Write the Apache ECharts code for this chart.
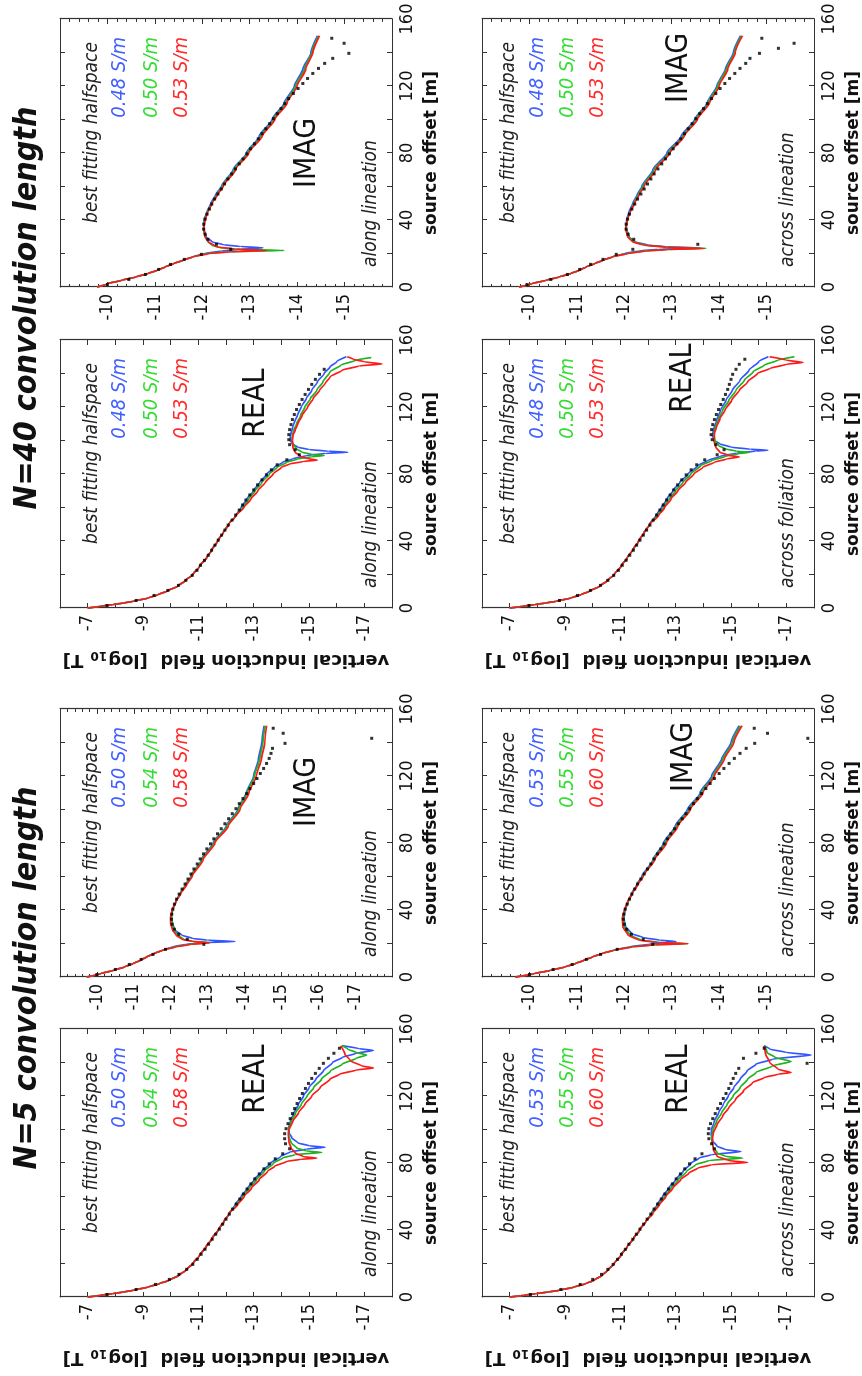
<!DOCTYPE html>
<html><head><meta charset="utf-8">
<script src="https://cdn.jsdelivr.net/npm/echarts/dist/echarts.min.js"></script>
<style>
html,body{margin:0;padding:0;background:#fff;overflow:hidden;width:862px;height:1376px;}
#wrap{position:absolute;left:0;top:1376px;width:1376px;height:862px;transform-origin:0 0;transform:rotate(-90deg);}
#chart{width:1376px;height:862px;background:#fff;}
</style></head>
<body><div id="wrap"><div id="chart"></div></div>
<script>
// ---------- tick labels / text ----------
const offsetTicks = [0, 40, 80, 120, 160];
const realTicks = [-7, -9, -11, -13, -15, -17];
const imagTicksShort = [-10, -11, -12, -13, -14, -15];
const imagTicksLong = [-10, -11, -12, -13, -14, -15, -16, -17];
const sigmaN5Along = ['0.50 S/m', '0.54 S/m', '0.58 S/m'];
const sigmaN5Across = ['0.53 S/m', '0.55 S/m', '0.60 S/m'];
const sigmaN40 = ['0.48 S/m', '0.50 S/m', '0.53 S/m'];

// observation offsets (m)
const obsOffsets = [1.5,4.5,7.5,10.5,13.5,16.5,19.5,22.5,25.5,28.5,31.5,34.5,37.5,40.5,43.5,46.5,49.5,52.5,55.5,58.5,61.5,64.5,67.5,70.5,73.5,76.5,79.5,82.5,85.5,88.5,91.5,94.5,97.5,100.5,103.5,106.5,109.5,112.5,115.5,118.5,121.5,124.5,127.5,130.5,133.5,136.5,139.5,142.5,145.5,148.5];

// ---------- N=5, along lineation, REAL ----------
const n5AlongRealTrunk = [[0,-7.0],[1,-7.45],[2,-7.9],[3,-8.3],[4,-8.65],[6,-9.2],[8,-9.6],[10,-9.95],[13,-10.3],[16,-10.55],[20,-10.8],[25,-11.05],[30,-11.28],[35,-11.5],[40,-11.72],[45,-11.92],[50,-12.12]];
const n5AlongRealBlueTail = [[55,-12.33],[60,-12.55],[65,-12.78],[70,-13.02],[75,-13.3],[80,-13.62],[84,-13.98],[86.5,-14.3],[88.3,-14.9],[89.4,-15.58],[90.3,-15.0],[92,-14.6],[95,-14.38],[98,-14.28],[101,-14.26],[105,-14.33],[110,-14.46],[115,-14.62],[120,-14.8],[125,-15.0],[130,-15.25],[135,-15.52],[140,-15.85],[143,-16.2],[145.5,-16.7],[147.2,-17.33],[148.3,-16.8],[150,-16.2]];
const n5AlongRealGreenTail = [[55,-12.38],[60,-12.6],[65,-12.84],[70,-13.1],[75,-13.38],[80,-13.72],[83,-14.05],[85,-14.5],[86.3,-15.46],[87.2,-14.9],[89,-14.55],[92,-14.36],[96,-14.27],[100,-14.26],[105,-14.36],[110,-14.52],[115,-14.72],[120,-14.93],[125,-15.17],[130,-15.45],[135,-15.78],[139,-16.2],[142.5,-16.7],[144.5,-17.08],[146,-16.7],[148,-16.4],[150,-16.2]];
const n5AlongRealRedTail = [[55,-12.42],[60,-12.66],[65,-12.92],[70,-13.2],[75,-13.5],[78,-13.75],[81,-14.2],[82.2,-14.7],[82.9,-15.28],[83.8,-14.8],[86,-14.5],[89,-14.35],[93,-14.27],[97,-14.25],[100,-14.28],[105,-14.42],[110,-14.62],[115,-14.85],[120,-15.1],[125,-15.4],[130,-15.75],[133,-16.1],[135.5,-16.7],[136.7,-17.33],[138,-16.9],[141,-16.5],[145,-16.3],[150,-16.15]];
const n5AlongRealObs = [-7.7,-8.75,-9.45,-9.95,-10.3,-10.58,-10.8,-10.96,-11.1,-11.24,-11.37,-11.5,-11.63,-11.76,-11.88,-12.0,-12.12,-12.24,-12.37,-12.5,-12.63,-12.76,-12.9,-13.04,-13.2,-13.37,-13.56,-13.78,-14.05,-14.3,-14.15,-14.12,-14.12,-14.17,-14.24,-14.32,-14.4,-14.48,-14.57,-14.66,-14.76,-14.87,-14.98,-15.1,-15.23,-15.37,-15.52,-15.7,-15.9,-16.1];

// ---------- N=5, along lineation, IMAG ----------
const n5AlongImagTrunk = [[0,-9.72],[2,-10.1],[4,-10.45],[6,-10.75],[8,-10.98],[10,-11.18],[12,-11.35],[14,-11.55],[16,-11.78]];
const n5AlongImagBlueTail = [[18,-12.05],[19.5,-12.4],[20.5,-12.9],[21.2,-13.74],[22,-13.0],[23,-12.6],[25,-12.3],[28,-12.12],[32,-12.05],[36,-12.02],[40,-12.05],[45,-12.14],[50,-12.26],[55,-12.4],[60,-12.55],[70,-12.83],[80,-13.15],[90,-13.5],[100,-13.82],[110,-14.05],[120,-14.25],[130,-14.38],[140,-14.47],[150,-14.53]];
const n5AlongImagGreenTail = [[18,-12.1],[19.5,-12.5],[20.5,-13.07],[21.3,-12.6],[22.5,-12.35],[25,-12.2],[28,-12.1],[32,-12.04],[36,-12.02],[40,-12.05],[45,-12.14],[50,-12.27],[55,-12.41],[60,-12.56],[70,-12.85],[80,-13.17],[90,-13.52],[100,-13.84],[110,-14.07],[120,-14.27],[130,-14.41],[140,-14.5],[150,-14.56]];
const n5AlongImagRedTail = [[18,-12.15],[19.5,-12.55],[20.4,-13.05],[21.2,-12.6],[22.5,-12.3],[25,-12.15],[28,-12.05],[32,-12.0],[36,-12.0],[40,-12.04],[45,-12.14],[50,-12.28],[55,-12.43],[60,-12.58],[70,-12.88],[80,-13.2],[90,-13.56],[100,-13.88],[110,-14.12],[120,-14.32],[130,-14.46],[140,-14.55],[150,-14.6]];
const n5AlongImagObs = [-10.0,-10.5,-10.88,-11.2,-11.52,-11.86,-12.9,-12.45,-12.22,-12.1,-12.04,-12.02,-12.03,-12.06,-12.1,-12.16,-12.23,-12.31,-12.39,-12.47,-12.55,-12.63,-12.72,-12.8,-12.89,-12.98,-13.08,-13.17,-13.27,-13.37,-13.47,-13.57,-13.67,-13.77,-13.86,-13.96,-14.06,-14.15,-14.25,-14.34,-14.43,-14.52,-14.6,-14.67,-14.72,-14.76,-15.1,-17.45,-15.05,-14.78];

// ---------- N=40, along lineation, REAL ----------
const n40AlongRealTrunk = [[0,-7.0],[1,-7.45],[2,-7.9],[3,-8.3],[4,-8.65],[6,-9.2],[8,-9.55],[10,-9.85],[13,-10.25],[16,-10.5],[20,-10.8],[25,-11.05],[30,-11.3],[35,-11.5],[40,-11.7],[45,-11.9],[50,-12.1],[55,-12.35]];
const n40AlongRealBlueTail = [[60,-12.55],[65,-12.75],[70,-13.0],[75,-13.22],[80,-13.48],[84,-13.75],[87,-14.05],[89,-14.4],[91,-14.9],[92.3,-15.6],[93,-16.4],[93.6,-15.7],[94.6,-15.0],[96,-14.6],[98,-14.4],[100,-14.33],[103,-14.33],[106,-14.38],[110,-14.45],[115,-14.58],[120,-14.72],[125,-14.9],[130,-15.1],[135,-15.3],[140,-15.55],[144,-15.76],[147,-16.0],[150,-16.35]];
const n40AlongRealGreenTail = [[60,-12.6],[65,-12.82],[70,-13.05],[75,-13.3],[80,-13.57],[84,-13.85],[87,-14.2],[89,-14.6],[90.3,-15.1],[91,-15.55],[91.7,-15.1],[93,-14.75],[95,-14.55],[98,-14.42],[100,-14.38],[103,-14.4],[106,-14.45],[110,-14.55],[115,-14.7],[120,-14.85],[125,-15.05],[130,-15.28],[135,-15.5],[141,-15.76],[145,-16.15],[148,-16.7],[149.5,-17.25]];
const n40AlongRealRedTail = [[60,-12.65],[65,-12.9],[70,-13.15],[75,-13.42],[80,-13.7],[84,-14.0],[86,-14.3],[87.5,-14.8],[88.3,-15.3],[89.2,-14.95],[90.5,-14.7],[93,-14.5],[96,-14.42],[100,-14.4],[103,-14.42],[106,-14.5],[110,-14.6],[115,-14.75],[120,-14.95],[125,-15.15],[130,-15.38],[134,-15.58],[138,-15.76],[142,-16.2],[144.5,-16.8],[145.7,-17.64],[147,-17.0],[148.5,-16.6],[150,-16.38]];
const n40AlongRealObs = [-7.7,-8.75,-9.4,-9.9,-10.28,-10.55,-10.78,-10.95,-11.08,-11.22,-11.36,-11.48,-11.6,-11.72,-11.84,-11.96,-12.08,-12.22,-12.35,-12.48,-12.6,-12.72,-12.86,-13.0,-13.14,-13.3,-13.46,-13.64,-13.85,-14.2,-14.65,-14.5,-14.3,-14.27,-14.27,-14.3,-14.35,-14.4,-14.47,-14.55,-14.65,-14.75,-14.86,-14.98,-15.1,-15.23,-15.38,-15.55,null,null];

// ---------- N=40, along lineation, IMAG ----------
const n40AlongImagTrunk = [[0,-9.78],[2,-10.0],[4,-10.3],[6,-10.6],[8,-10.85],[10,-11.05],[12,-11.22],[14,-11.4],[16,-11.6],[18,-11.8]];
const n40AlongImagBlueTail = [[20,-12.05],[21.5,-12.4],[22.5,-12.8],[23.4,-13.28],[24.2,-12.8],[25.2,-12.45],[27,-12.2],[30,-12.08],[35,-12.03],[40,-12.04],[45,-12.1],[50,-12.18],[55,-12.28],[60,-12.4],[70,-12.65],[80,-12.93],[90,-13.2],[100,-13.47],[110,-13.73],[120,-13.94],[130,-14.12],[140,-14.29],[150,-14.43]];
const n40AlongImagGreenTail = [[20,-12.1],[21,-12.5],[21.8,-13.72],[22.6,-12.7],[23.6,-12.35],[25,-12.2],[27,-12.12],[30,-12.06],[35,-12.03],[40,-12.05],[45,-12.11],[50,-12.2],[55,-12.3],[60,-12.42],[70,-12.67],[80,-12.95],[90,-13.23],[100,-13.5],[110,-13.76],[120,-13.97],[130,-14.15],[140,-14.31],[150,-14.45]];
const n40AlongImagRedTail = [[20,-12.15],[21,-12.6],[21.8,-13.35],[22.6,-12.7],[24,-12.3],[27,-12.13],[30,-12.06],[35,-12.03],[40,-12.06],[45,-12.12],[50,-12.21],[55,-12.32],[60,-12.44],[70,-12.7],[80,-12.98],[90,-13.26],[100,-13.53],[110,-13.79],[120,-14.0],[130,-14.18],[140,-14.33],[150,-14.47]];
const n40AlongImagObs = [-10.0,-10.45,-10.8,-11.08,-11.33,-11.62,-11.98,-12.6,-12.3,-12.12,-12.06,-12.03,-12.03,-12.06,-12.1,-12.15,-12.2,-12.26,-12.33,-12.4,-12.47,-12.54,-12.62,-12.7,-12.78,-12.86,-12.94,-13.02,-13.1,-13.18,-13.26,-13.34,-13.42,-13.5,-13.58,-13.66,-13.74,-13.82,-13.92,-14.02,-14.12,-14.22,-14.33,-14.45,-14.58,-14.75,-15.09,null,-14.99,-14.73];

// ---------- N=5, across lineation, REAL ----------
const n5AcrossRealTrunk = [[0,-7.0],[1,-7.5],[2,-7.95],[3,-8.4],[4,-8.8],[6,-9.35],[8,-9.75],[10,-10.05],[13,-10.35],[16,-10.55],[20,-10.78],[25,-11.02],[30,-11.25],[35,-11.48],[40,-11.7],[45,-11.92]];
const n5AcrossRealBlueTail = [[50,-12.12],[55,-12.32],[60,-12.53],[65,-12.75],[70,-13.0],[75,-13.27],[80,-13.57],[83,-13.85],[85,-14.3],[86.8,-15.36],[88,-14.8],[90,-14.5],[93,-14.35],[97,-14.28],[100,-14.3],[105,-14.4],[110,-14.55],[115,-14.72],[120,-14.9],[125,-15.1],[130,-15.33],[135,-15.58],[139,-15.9],[142,-16.5],[144.5,-17.9],[146,-17.0],[148,-16.4],[150,-16.2]];
const n5AcrossRealGreenTail = [[50,-12.15],[55,-12.37],[60,-12.6],[65,-12.83],[70,-13.1],[75,-13.4],[79,-13.72],[81.5,-14.2],[82.9,-15.42],[84,-14.8],[86,-14.5],[90,-14.35],[95,-14.3],[100,-14.35],[105,-14.48],[110,-14.66],[115,-14.86],[120,-15.08],[125,-15.33],[130,-15.6],[134,-15.9],[138,-16.5],[140.6,-17.17],[143,-16.6],[146,-16.3],[150,-16.2]];
const n5AcrossRealRedTail = [[50,-12.18],[55,-12.41],[60,-12.65],[65,-12.9],[70,-13.18],[74,-13.48],[77,-13.8],[79,-14.3],[80.3,-15.6],[81.5,-14.9],[84,-14.5],[88,-14.36],[93,-14.32],[98,-14.36],[103,-14.5],[108,-14.7],[113,-14.92],[118,-15.17],[123,-15.45],[128,-15.78],[131,-16.2],[133,-16.7],[134,-17.17],[136,-16.7],[140,-16.4],[145,-16.25],[150,-16.2]];
const n5AcrossRealObs = [-7.75,-8.85,-9.55,-10.0,-10.32,-10.55,-10.74,-10.9,-11.04,-11.18,-11.31,-11.45,-11.58,-11.71,-11.84,-11.97,-12.1,-12.22,-12.35,-12.48,-12.61,-12.74,-12.88,-13.02,-13.17,-13.33,-13.5,-13.7,-13.95,-14.4,-14.3,-14.2,-14.18,-14.2,-14.26,-14.34,-14.43,-14.52,-14.62,-14.72,-14.82,-14.92,-15.0,-15.08,-15.17,-15.28,-17.75,-15.45,-15.9,-16.2];

// ---------- N=5, across lineation, IMAG ----------
const n5AcrossImagTrunk = [[0,-9.7],[2,-10.1],[4,-10.45],[6,-10.75],[8,-10.97],[10,-11.15],[12,-11.33],[14,-11.53],[16,-11.78]];
const n5AcrossImagBlueTail = [[18,-12.1],[19.5,-12.5],[20.5,-12.85],[21.2,-13.09],[22,-12.75],[23.5,-12.4],[26,-12.15],[30,-12.03],[35,-11.99],[40,-12.02],[45,-12.08],[50,-12.16],[55,-12.26],[60,-12.37],[70,-12.6],[80,-12.83],[90,-13.07],[100,-13.33],[110,-13.6],[120,-13.84],[130,-14.05],[140,-14.25],[150,-14.42]];
const n5AcrossImagGreenTail = [[18,-12.15],[19.2,-12.6],[19.9,-13.34],[20.6,-12.75],[22,-12.35],[25,-12.12],[30,-12.0],[35,-11.98],[40,-12.01],[45,-12.08],[50,-12.17],[55,-12.27],[60,-12.39],[70,-12.62],[80,-12.86],[90,-13.1],[100,-13.36],[110,-13.63],[120,-13.87],[130,-14.08],[140,-14.28],[150,-14.45]];
const n5AcrossImagRedTail = [[18,-12.18],[19.2,-12.65],[19.9,-13.34],[20.6,-12.7],[22,-12.3],[25,-12.08],[30,-11.97],[35,-11.96],[40,-12.0],[45,-12.07],[50,-12.17],[55,-12.28],[60,-12.4],[70,-12.64],[80,-12.89],[90,-13.13],[100,-13.39],[110,-13.66],[120,-13.9],[130,-14.11],[140,-14.31],[150,-14.48]];
const n5AcrossImagObs = [-10.0,-10.5,-10.9,-11.2,-11.5,-11.85,-12.6,-12.4,-12.15,-12.05,-12.0,-11.98,-11.99,-12.02,-12.06,-12.11,-12.16,-12.22,-12.28,-12.35,-12.42,-12.49,-12.56,-12.63,-12.7,-12.77,-12.84,-12.91,-12.98,-13.06,-13.14,-13.22,-13.3,-13.38,-13.46,-13.54,-13.63,-13.72,-13.81,-13.9,-14.0,-14.1,-14.21,-14.32,-14.44,-14.57,-14.75,-15.87,-15.02,-14.74];

// ---------- N=40, across foliation, REAL ----------
const n40AcrossRealTrunk = [[0,-7.0],[1,-7.45],[2,-7.9],[3,-8.3],[4,-8.68],[6,-9.22],[8,-9.58],[10,-9.88],[13,-10.25],[16,-10.5],[20,-10.78],[25,-11.03],[30,-11.25],[35,-11.46],[40,-11.66],[45,-11.86],[50,-12.06]];
const n40AcrossRealBlueTail = [[55,-12.28],[60,-12.48],[65,-12.68],[70,-12.9],[75,-13.15],[80,-13.45],[85,-13.8],[88,-14.15],[90.5,-14.6],[92.5,-15.2],[93.7,-15.9],[94.2,-16.33],[94.8,-15.7],[96,-15.0],[98,-14.6],[100,-14.4],[103,-14.33],[107,-14.38],[112,-14.48],[118,-14.62],[124,-14.82],[130,-15.05],[136,-15.33],[142,-15.65],[147,-16.0],[150,-16.35]];
const n40AcrossRealGreenTail = [[55,-12.33],[60,-12.55],[65,-12.76],[70,-13.0],[75,-13.26],[80,-13.55],[85,-13.9],[88,-14.3],[90.5,-14.8],[92.2,-15.3],[92.9,-15.66],[93.6,-15.2],[95,-14.8],[97,-14.55],[100,-14.42],[104,-14.38],[108,-14.43],[113,-14.55],[118,-14.7],[124,-14.92],[130,-15.18],[136,-15.48],[141,-15.8],[145,-16.2],[148,-16.7],[150,-17.29]];
const n40AcrossRealRedTail = [[55,-12.38],[60,-12.6],[65,-12.83],[70,-13.08],[75,-13.36],[80,-13.66],[84,-13.98],[87,-14.4],[89,-14.85],[90.2,-15.3],[91,-14.95],[93,-14.6],[96,-14.45],[100,-14.38],[104,-14.4],[108,-14.47],[113,-14.6],[118,-14.78],[124,-15.02],[130,-15.3],[135,-15.6],[140,-15.95],[143,-16.4],[145.5,-17.0],[146.6,-17.6],[148,-17.0],[150,-16.4]];
const n40AcrossRealObs = [-7.7,-8.8,-9.45,-9.92,-10.28,-10.55,-10.76,-10.93,-11.07,-11.21,-11.34,-11.47,-11.59,-11.71,-11.83,-11.95,-12.07,-12.19,-12.31,-12.43,-12.55,-12.67,-12.8,-12.93,-13.07,-13.22,-13.38,-13.56,-13.76,-14.05,-14.5,-14.75,-14.45,-14.32,-14.28,-14.3,-14.34,-14.4,-14.47,-14.55,-14.63,-14.72,-14.8,-14.88,-14.94,-15.0,-15.06,-15.18,-15.3,-15.5];

// ---------- N=40, across lineation, IMAG ----------
const n40AcrossImagTrunk = [[0,-9.78],[2,-10.05],[4,-10.35],[6,-10.63],[8,-10.87],[10,-11.05],[12,-11.2],[14,-11.38],[16,-11.55],[18,-11.75]];
const n40AcrossImagBlueTail = [[20,-12.0],[21.5,-12.3],[22.5,-12.7],[23.3,-13.6],[24,-12.9],[25,-12.5],[27,-12.22],[30,-12.1],[35,-12.04],[40,-12.05],[45,-12.1],[50,-12.18],[55,-12.27],[60,-12.37],[70,-12.6],[80,-12.9],[90,-13.2],[100,-13.48],[110,-13.75],[120,-13.95],[130,-14.13],[140,-14.3],[150,-14.45]];
const n40AcrossImagGreenTail = [[20,-12.05],[21.5,-12.4],[22.4,-12.9],[23.1,-13.72],[23.8,-12.9],[25,-12.45],[27,-12.2],[30,-12.09],[35,-12.04],[40,-12.06],[45,-12.12],[50,-12.2],[55,-12.29],[60,-12.39],[70,-12.63],[80,-12.93],[90,-13.23],[100,-13.51],[110,-13.77],[120,-13.97],[130,-14.15],[140,-14.32],[150,-14.47]];
const n40AcrossImagRedTail = [[20,-12.08],[21.5,-12.45],[22.4,-12.95],[23.0,-13.68],[23.7,-12.9],[25,-12.4],[27,-12.17],[30,-12.07],[35,-12.03],[40,-12.06],[45,-12.13],[50,-12.22],[55,-12.31],[60,-12.42],[70,-12.66],[80,-12.96],[90,-13.26],[100,-13.54],[110,-13.8],[120,-14.0],[130,-14.18],[140,-14.34],[150,-14.49]];
const n40AcrossImagObs = [-9.95,-10.45,-10.8,-11.06,-11.29,-11.55,-11.83,-12.18,-13.55,-12.2,-12.08,-12.04,-12.04,-12.07,-12.11,-12.16,-12.22,-12.28,-12.35,-12.42,-12.49,-12.56,-12.63,-12.71,-12.79,-12.87,-12.95,-13.03,-13.11,-13.19,-13.27,-13.35,-13.43,-13.51,-13.59,-13.67,-13.75,-13.84,-13.93,-14.02,-14.12,-14.22,-14.33,-14.44,-14.56,-14.65,-14.85,-15.25,-15.58,-14.9];

// ---------- panel definitions ----------
const panels = [
  {kind:'REAL', yMin:-18, yMax:-6, ticks:realTicks, trunk:n5AlongRealTrunk, blue:n5AlongRealBlueTail, green:n5AlongRealGreenTail, red:n5AlongRealRedTail, obs:n5AlongRealObs, sigma:sigmaN5Along, orient:'along lineation'},
  {kind:'IMAG', yMin:-18, yMax:-9, ticks:imagTicksLong, trunk:n5AlongImagTrunk, blue:n5AlongImagBlueTail, green:n5AlongImagGreenTail, red:n5AlongImagRedTail, obs:n5AlongImagObs, sigma:sigmaN5Along, orient:'along lineation'},
  {kind:'REAL', yMin:-18, yMax:-6, ticks:realTicks, trunk:n40AlongRealTrunk, blue:n40AlongRealBlueTail, green:n40AlongRealGreenTail, red:n40AlongRealRedTail, obs:n40AlongRealObs, sigma:sigmaN40, orient:'along lineation'},
  {kind:'IMAG', yMin:-16, yMax:-9, ticks:imagTicksShort, trunk:n40AlongImagTrunk, blue:n40AlongImagBlueTail, green:n40AlongImagGreenTail, red:n40AlongImagRedTail, obs:n40AlongImagObs, sigma:sigmaN40, orient:'along lineation'},
  {kind:'REAL', yMin:-18, yMax:-6, ticks:realTicks, trunk:n5AcrossRealTrunk, blue:n5AcrossRealBlueTail, green:n5AcrossRealGreenTail, red:n5AcrossRealRedTail, obs:n5AcrossRealObs, sigma:sigmaN5Across, orient:'across lineation'},
  {kind:'IMAG', yMin:-16, yMax:-9, ticks:imagTicksShort, trunk:n5AcrossImagTrunk, blue:n5AcrossImagBlueTail, green:n5AcrossImagGreenTail, red:n5AcrossImagRedTail, obs:n5AcrossImagObs, sigma:sigmaN5Across, orient:'across lineation'},
  {kind:'REAL', yMin:-18, yMax:-6, ticks:realTicks, trunk:n40AcrossRealTrunk, blue:n40AcrossRealBlueTail, green:n40AcrossRealGreenTail, red:n40AcrossRealRedTail, obs:n40AcrossRealObs, sigma:sigmaN40, orient:'across foliation'},
  {kind:'IMAG', yMin:-16, yMax:-9, ticks:imagTicksShort, trunk:n40AcrossImagTrunk, blue:n40AcrossImagBlueTail, green:n40AcrossImagGreenTail, red:n40AcrossImagRedTail, obs:n40AcrossImagObs, sigma:sigmaN40, orient:'across lineation'}
];

// ---------- layout (canvas is drawn landscape, then rotated) ----------
const W = 268, H = 332;
const layout = [
  {left:79,  top:60,  kx:218, ky:196},
  {left:399, top:60,  kx:185, ky:247},
  {left:768, top:60,  kx:205, ky:196},
  {left:1089,top:60,  kx:134, ky:247},
  {left:79,  top:482, kx:218, ky:197},
  {left:399, top:482, kx:220, ky:202},
  {left:768, top:482, kx:230, ky:201},
  {left:1089,top:482, kx:219, ky:197}
];
const FC = "'Liberation Sans Narrow','DejaVu Sans Condensed',sans-serif";
const FB = "'DejaVu Sans',Verdana,sans-serif";
const LINE_COL = {blue:'#3355ff', green:'#1fb41f', red:'#ff1a1a'};
const TEXT_COL = ['#4060ff', '#33dd33', '#ff2a2a'];
const AX = '#333';

const option = {animation:false, backgroundColor:'#fff', grid:[], xAxis:[], yAxis:[], series:[], graphic:[]};

panels.forEach((p, i) => {
  const g = layout[i];
  const across = i >= 4;
  option.grid.push({left:g.left, top:g.top, width:W, height:H, show:false, containLabel:false});
  const axisLine = {show:true, onZero:false, lineStyle:{color:AX, width:1.2}};
  const tick = {show:true, inside:true, length:5, lineStyle:{color:AX, width:1}};
  const minor = p.kind === 'IMAG' ? {show:true, splitNumber:5, length:3, lineStyle:{color:AX, width:1}} : {show:false};
  const lbl = {fontSize:18, fontFamily:FC, color:'#111', margin:6};
  option.xAxis.push({gridIndex:i, type:'value', min:0, max:160, interval:20, position:'bottom', axisLine, axisTick:tick, splitLine:{show:false},
    axisLabel:Object.assign({}, lbl, {formatter:v => offsetTicks.includes(v) ? String(v) : ''})});
  option.xAxis.push({gridIndex:i, type:'value', min:0, max:160, interval:20, position:'top', axisLine, axisTick:tick, splitLine:{show:false}, axisLabel:{show:false}});
  option.yAxis.push({gridIndex:i, type:'value', min:p.yMin, max:p.yMax, interval:1, position:'left', axisLine, axisTick:tick, minorTick:minor, splitLine:{show:false}, minorSplitLine:{show:false},
    axisLabel:Object.assign({}, lbl, {margin:7, formatter:v => p.ticks.includes(v) ? String(v) : ''})});
  option.yAxis.push({gridIndex:i, type:'value', min:p.yMin, max:p.yMax, interval:1, position:'right', axisLine, axisTick:tick, minorTick:minor, splitLine:{show:false}, minorSplitLine:{show:false}, axisLabel:{show:false}});

  ['blue','green','red'].forEach(c => {
    option.series.push({type:'line', xAxisIndex:2*i, yAxisIndex:2*i, data:p.trunk.concat(p[c]), showSymbol:false, symbol:'none',
      smooth:0.2, smoothMonotone:'x', lineStyle:{color:LINE_COL[c], width:1.7}, silent:true, z:3});
  });
  option.series.push({type:'scatter', xAxisIndex:2*i, yAxisIndex:2*i, data:obsOffsets.map((x,k) => [x, p.obs[k]]).filter(d => d[1] !== null),
    symbol:'rect', symbolSize:3, itemStyle:{color:'#000'}, silent:true, z:4});

  // annotations
  const L = g.left, T = g.top;
  option.graphic.push({type:'text', x:L+245, y:T+(across?27:32), silent:true,
    style:{text:'best fitting halfspace', font:'italic 19px '+FC, fill:'#222', align:'right', verticalAlign:'middle'}});
  const sy = across ? [56,86,116] : [60,92,122];
  p.sigma.forEach((s, k) => option.graphic.push({type:'text', x:L+250, y:T+sy[k], silent:true,
    style:{text:s, font:'italic 20px '+FC, fill:TEXT_COL[k], align:'right', verticalAlign:'middle'}}));
  option.graphic.push({type:'text', x:L+g.kx, y:T+g.ky, silent:true,
    style:{text:p.kind, font:'30px '+FC, fill:'#111', align:'center', verticalAlign:'middle'}});
  option.graphic.push({type:'text', x:L+20, y:T+(across?306:311), silent:true,
    style:{text:p.orient, font:'italic 19px '+FC, fill:'#222', align:'left', verticalAlign:'middle'}});
  option.graphic.push({type:'text', x:L+W/2, y:T+H+40, silent:true,
    style:{text:'source offset [m]', font:'bold 17px '+FB, fill:'#111', align:'center', verticalAlign:'middle'}});
  if (p.kind === 'REAL') {
    option.graphic.push({type:'text', x:(i % 4 === 0 ? 18 : 716), y:T+H/2, rotation:Math.PI/2, silent:true,
      style:{text:'{a|vertical induction field  [log}{s|10}{a| T]}', align:'center', verticalAlign:'middle',
        rich:{a:{font:'bold 18px '+FB, fill:'#111'}, s:{font:'bold 12px '+FB, fill:'#111', padding:[9,1,0,1]}}}});
  }
});

option.graphic.push({type:'text', x:398, y:28, silent:true,
  style:{text:'N=5 convolution length', font:'italic bold 32px '+FC, fill:'#111', align:'center', verticalAlign:'middle'}});
option.graphic.push({type:'text', x:1068, y:28, silent:true,
  style:{text:'N=40 convolution length', font:'italic bold 32px '+FC, fill:'#111', align:'center', verticalAlign:'middle'}});

const chart = echarts.init(document.getElementById('chart'), null, {renderer:'canvas', width:1376, height:862});
chart.setOption(option);
</script>
</body></html>
